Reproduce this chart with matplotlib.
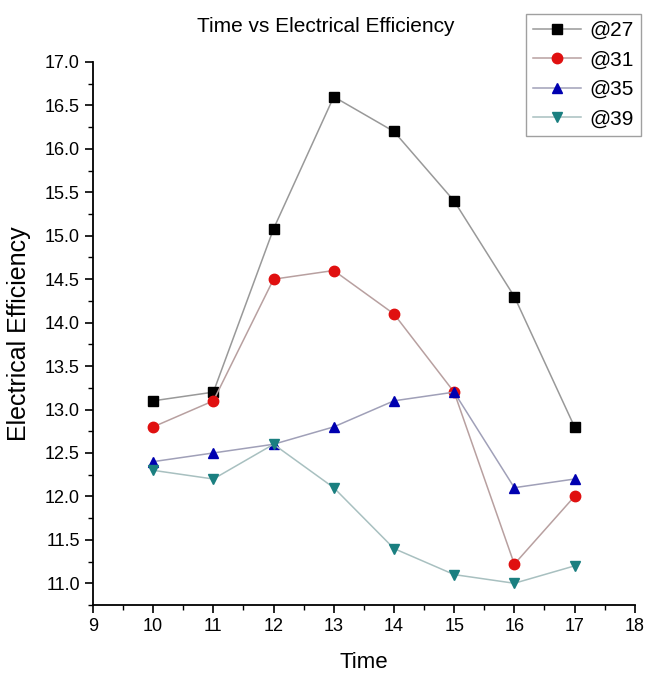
import matplotlib
matplotlib.use("Agg")
import matplotlib.pyplot as plt
from matplotlib.ticker import MultipleLocator

plt.rcParams['font.family'] = ['Liberation Sans', 'DejaVu Sans']

# data
time = [10, 11, 12, 13, 14, 15, 16, 17]
eff_27 = [13.1, 13.2, 15.08, 16.6, 16.2, 15.4, 14.3, 12.8]
eff_31 = [12.8, 13.1, 14.5, 14.6, 14.1, 13.2, 11.22, 12.0]
eff_35 = [12.4, 12.5, 12.6, 12.8, 13.1, 13.2, 12.1, 12.2]
eff_39 = [12.3, 12.2, 12.6, 12.1, 11.4, 11.1, 11.0, 11.2]
labels = ["@27", "@31", "@35", "@39"]

fig = plt.figure(figsize=(6.48, 6.85), dpi=100)
ax = fig.add_axes([0.1435, 0.1168, 0.836, 0.7927])

styles = [
    (eff_27, "s", "black", "#999999"),
    (eff_31, "o", "#e01010", "#b8a0a0"),
    (eff_35, "^", "#0000b0", "#a0a0b8"),
    (eff_39, "v", "#1a7f80", "#a8c0c0"),
]
for (vals, mk, mc, lc), lab in zip(styles, labels):
    ax.plot(time, vals, color=lc, linewidth=1.1, marker=mk, markersize=7.5,
            markerfacecolor=mc, markeredgecolor=mc, label=lab)

ax.set_xlim(9, 18)
ax.set_ylim(10.75, 17.0)
ax.xaxis.set_major_locator(MultipleLocator(1))
ax.xaxis.set_minor_locator(MultipleLocator(0.5))
ax.yaxis.set_major_locator(MultipleLocator(0.5))
ax.yaxis.set_minor_locator(MultipleLocator(0.25))
ax.yaxis.set_major_formatter(matplotlib.ticker.FormatStrFormatter("%.1f"))
ax.spines['top'].set_visible(False)
ax.spines['right'].set_visible(False)
ax.spines['left'].set_linewidth(1.3)
ax.spines['bottom'].set_linewidth(1.3)
ax.tick_params(which='major', direction='out', length=6, width=1.2, labelsize=13)
ax.tick_params(which='minor', direction='out', length=3.5, width=1.0)

ax.set_xlabel("Time", fontsize=16, labelpad=12)
ax.set_ylabel("Electrical Efficiency", fontsize=18, labelpad=10)
fig.text(0.502, 0.962, "Time vs Electrical Efficiency", ha='center', va='center', fontsize=15)

leg = fig.legend(loc='upper right', bbox_to_anchor=(1.005, 0.995), fontsize=15,
                 frameon=True, fancybox=False, edgecolor='#888888',
                 handlelength=2.3, labelspacing=0.5, borderpad=0.35, handletextpad=0.4)
leg.get_frame().set_linewidth(1.0)

fig.savefig("out.png", dpi=100)
